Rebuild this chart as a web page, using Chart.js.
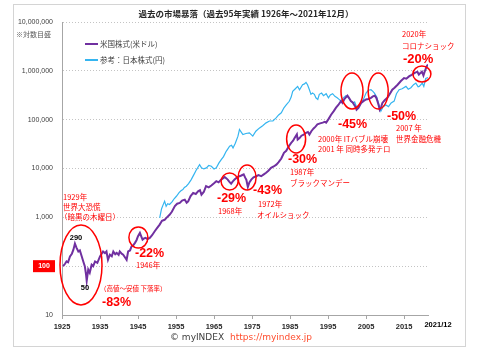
<!DOCTYPE html>
<html>
<head>
<meta charset="utf-8">
<script src="https://cdn.jsdelivr.net/npm/chart.js@4.4.0/dist/chart.umd.min.js"></script>
<style>
body { margin: 0; background: #fff; }
#wrap { width: 477px; height: 350px; }
</style>
</head>
<body>
<div id="wrap"><canvas id="chart" width="477" height="350"></canvas></div>
<script>
// データ
const seriesLabels = ['米国株式(米ドル)', '参考：日本株式(円)'];
const xTickYears = [1925, 1935, 1945, 1955, 1965, 1975, 1985, 1995, 2005, 2015];
const yTickValues = [10, 100, 1000, 10000, 100000, 1000000, 10000000];

const usYears = [1925.3, 1925.8, 1926.2, 1926.6, 1927.1, 1927.6, 1928.0, 1928.4, 1928.8, 1929.3, 1929.7, 1930.2, 1930.6, 1931.0, 1931.3, 1931.5, 1931.9, 1932.3, 1932.8, 1933.2, 1933.7, 1934.3, 1935.0, 1935.8, 1936.3, 1936.7, 1937.1, 1937.6, 1938.1, 1938.5, 1939.0, 1939.4, 1939.9, 1940.2, 1940.7, 1941.1, 1941.6, 1942.0, 1942.4, 1942.9, 1943.3, 1943.8, 1944.2, 1944.6, 1945.0, 1945.5, 1945.9, 1946.2, 1946.6, 1947.0, 1947.5, 1948.1, 1948.7, 1949.4, 1950.0, 1950.7, 1951.3, 1952.0, 1952.6, 1953.3, 1953.9, 1954.7, 1955.3, 1956.0, 1956.6, 1957.3, 1957.8, 1958.2, 1958.8, 1959.5, 1960.2, 1960.8, 1961.3, 1961.7, 1962.3, 1962.9, 1963.6, 1964.3, 1965.0, 1965.6, 1966.2, 1966.9, 1967.4, 1967.8, 1968.2, 1968.6, 1969.0, 1969.5, 1969.9, 1970.4, 1971.0, 1971.7, 1972.2, 1972.8, 1973.2, 1973.5, 1973.9, 1974.3, 1974.8, 1975.4, 1976.1, 1976.7, 1977.4, 1978.0, 1978.7, 1979.3, 1980.0, 1980.7, 1981.4, 1982.0, 1982.7, 1983.4, 1984.0, 1984.6, 1985.3, 1985.8, 1986.2, 1986.8, 1987.0, 1987.5, 1988.0, 1988.6, 1989.2, 1989.7, 1990.1, 1990.6, 1991.2, 1991.7, 1992.2, 1992.9, 1993.6, 1994.1, 1994.5, 1995.2, 1995.8, 1996.5, 1997.1, 1997.7, 1998.4, 1998.8, 1999.3, 2000.1, 2000.5, 2001.0, 2001.5, 2001.9, 2002.2, 2002.5, 2003.0, 2003.7, 2004.3, 2005.0, 2005.6, 2006.3, 2006.8, 2007.3, 2007.7, 2008.0, 2008.3, 2008.6, 2009.0, 2009.3, 2009.9, 2010.6, 2011.2, 2011.9, 2012.5, 2013.3, 2014.1, 2015.0, 2015.6, 2016.3, 2017.0, 2017.7, 2018.5, 2018.9, 2019.3, 2019.7, 2020.1, 2020.4, 2020.7, 2021.0, 2021.3];
const usValues = [100, 112, 125, 120, 158, 180, 218, 290, 240, 200, 210, 158, 125, 100, 70, 50, 85, 73, 107, 100, 125, 117, 158, 200, 185, 200, 135, 172, 160, 200, 175, 187, 170, 200, 180, 172, 150, 135, 200, 210, 255, 270, 300, 340, 410, 480, 400, 350, 370, 380, 360, 380, 430, 520, 600, 710, 850, 890, 1000, 1130, 1300, 1700, 1900, 1970, 2200, 2300, 2000, 2130, 2700, 3160, 3000, 3400, 3600, 2900, 3300, 4340, 4100, 4500, 5000, 5500, 5200, 5930, 6300, 6700, 6300, 5930, 5400, 4900, 5400, 5930, 6500, 6950, 7200, 7600, 6500, 5900, 4200, 5200, 5930, 6600, 6950, 7300, 6950, 7500, 8200, 9000, 10300, 11000, 12000, 13500, 16000, 21000, 23000, 28000, 33500, 37000, 42000, 50000, 39000, 42000, 47000, 49500, 53700, 56000, 49500, 58000, 66000, 72000, 80000, 84000, 87000, 90000, 87000, 105000, 126000, 150000, 176000, 200000, 240000, 220000, 265000, 310000, 280000, 240000, 225000, 200000, 185000, 160000, 175000, 220000, 240000, 260000, 265000, 280000, 300000, 310000, 280000, 240000, 200000, 160000, 185000, 220000, 250000, 280000, 330000, 410000, 450000, 520000, 610000, 710000, 690000, 770000, 830000, 900000, 960000, 840000, 900000, 960000, 800000, 950000, 1100000, 1250000, 1350000];

const jpYears = [1950.7, 1951.2, 1951.6, 1952.0, 1952.4, 1952.8, 1953.3, 1954.0, 1954.5, 1955.1, 1955.8, 1956.3, 1956.8, 1957.2, 1957.7, 1958.3, 1959.0, 1959.7, 1960.4, 1960.9, 1961.2, 1961.7, 1962.3, 1963.0, 1963.6, 1964.3, 1965.0, 1965.6, 1966.3, 1966.9, 1967.5, 1968.2, 1968.6, 1969.1, 1969.6, 1970.0, 1970.6, 1971.3, 1971.7, 1972.2, 1972.6, 1973.4, 1974.3, 1975.2, 1976.0, 1976.9, 1977.8, 1978.7, 1979.6, 1980.5, 1981.4, 1982.0, 1982.7, 1983.4, 1984.0, 1984.8, 1985.3, 1985.7, 1986.4, 1987.0, 1987.5, 1988.3, 1988.8, 1989.2, 1989.6, 1990.1, 1990.5, 1990.9, 1991.4, 1991.8, 1992.3, 1992.7, 1993.3, 1993.8, 1994.5, 1995.1, 1995.6, 1996.2, 1996.8, 1997.4, 1997.9, 1998.4, 1999.0, 1999.7, 2000.3, 2001.0, 2001.6, 2002.0, 2002.4, 2003.0, 2003.7, 2004.3, 2005.0, 2005.6, 2006.3, 2006.8, 2007.2, 2007.8, 2008.5, 2008.9, 2009.5, 2010.2, 2010.9, 2011.6, 2012.4, 2013.0, 2013.7, 2014.5, 2015.5, 2016.1, 2016.8, 2017.5, 2018.1, 2018.7, 2019.0, 2019.8, 2020.2, 2020.7, 2021.3];
const jpValues = [970, 1500, 1800, 2140, 1680, 1900, 1830, 2100, 2400, 2700, 3200, 3500, 3700, 4100, 4340, 4900, 5930, 7500, 9500, 11000, 12000, 10300, 9800, 10300, 11500, 11100, 9800, 10300, 13000, 15200, 17500, 22500, 25000, 28600, 30000, 26400, 33000, 46000, 63000, 55000, 49500, 52000, 53700, 46000, 58000, 67000, 75000, 86000, 94000, 94000, 110000, 125000, 138000, 175000, 200000, 238000, 290000, 380000, 430000, 480000, 410000, 520000, 540000, 580000, 520000, 410000, 330000, 350000, 330000, 280000, 260000, 330000, 350000, 310000, 340000, 280000, 320000, 340000, 300000, 280000, 260000, 240000, 280000, 310000, 290000, 240000, 220000, 230000, 190000, 180000, 220000, 260000, 350000, 400000, 410000, 380000, 350000, 290000, 190000, 150000, 185000, 200000, 185000, 220000, 240000, 340000, 410000, 430000, 480000, 420000, 450000, 520000, 560000, 470000, 480000, 560000, 480000, 700000, 730000];

// 暴落の丸印 (年, 値, 横半径, 縦半径)
const crashMarks = [
    [1930.0, 106, 21, 40],
    [1945.1, 386, 9.5, 10.5],
    [1969.1, 5420, 8.5, 8.5],
    [1973.7, 6550, 9, 12.5],
    [1986.6, 40200, 9.5, 14],
    [2001.3, 386000, 11, 18],
    [2008.2, 386000, 10, 18],
    [2019.7, 861000, 9, 8]
];

const jpFont = '"Noto Sans CJK JP", sans-serif';
const red = '#ff0000';

function toPoints(xs, ys) {
    return xs.map((x, i) => ({ x: x, y: ys[i] }));
}

function txt(ctx, s, x, y, font, color, align) {
    ctx.font = font;
    ctx.fillStyle = color;
    ctx.textAlign = align || 'left';
    ctx.textBaseline = 'middle';
    ctx.fillText(s, x, y);
}

// 注記、タイトル、凡例など
const decor = {
    id: 'decor',
    beforeDraw(chart) {
        const ctx = chart.ctx;
        ctx.save();
        ctx.fillStyle = '#fff';
        ctx.fillRect(0, 0, chart.width, chart.height);
        ctx.strokeStyle = '#d4d4d4';
        ctx.lineWidth = 1;
        ctx.strokeRect(13.5, 4.5, 452, 342);
        ctx.restore();
    },
    afterDraw(chart) {
        const ctx = chart.ctx;
        const xs = chart.scales.x, ys = chart.scales.y;
        ctx.save();

        txt(ctx, '過去の市場暴落（過去95年実績 1926年～2021年12月）', 246, 14, 'bold 8.5px ' + jpFont, '#262626', 'center');
        txt(ctx, '※対数目盛', 16, 34, '7px ' + jpFont, '#595959');

        chart.data.datasets.forEach((ds, i) => {
            const y = 44 + i * 16;
            ctx.strokeStyle = ds.borderColor;
            ctx.lineWidth = 2;
            ctx.beginPath();
            ctx.moveTo(85, y);
            ctx.lineTo(98, y);
            ctx.stroke();
            txt(ctx, ds.label, 100, y, '7.5px ' + jpFont, '#404040');
        });

        const y100 = ys.getPixelForValue(100);
        ctx.fillStyle = red;
        ctx.fillRect(33, y100 - 6, 22, 12);
        txt(ctx, '100', 44, y100, 'bold 7px "Liberation Sans"', '#fff', 'center');

        txt(ctx, '2021/12', 438, 325, 'bold 7.5px "Liberation Sans"', '#000', 'center');

        ctx.strokeStyle = red;
        ctx.lineWidth = 1.5;
        crashMarks.forEach(m => {
            ctx.beginPath();
            ctx.ellipse(xs.getPixelForValue(m[0]), ys.getPixelForValue(m[1]), m[2], m[3], 0, 0, Math.PI * 2);
            ctx.stroke();
        });

        const small = '7.5px ' + jpFont;
        const big = 'bold 12.5px "Liberation Sans"';
        txt(ctx, '1929年', 63, 197, small, red);
        txt(ctx, '世界大恐慌', 63, 207, small, red);
        txt(ctx, '（暗黒の木曜日）', 60, 217, small, red);
        txt(ctx, '290', 76, 238, 'bold 7.5px "Liberation Sans"', '#000', 'center');
        txt(ctx, '50', 85, 288, 'bold 7.5px "Liberation Sans"', '#000', 'center');
        txt(ctx, '（高値～安値 下落率）', 100, 289, '6.5px ' + jpFont, red);
        txt(ctx, '-83%', 102, 303, big, red);

        txt(ctx, '-22%', 135, 254, big, red);
        txt(ctx, '1946年', 136, 265, small, red);

        txt(ctx, '-29%', 217, 199, big, red);
        txt(ctx, '1968年', 218, 211, small, red);
        txt(ctx, '-43%', 253, 191, big, red);
        txt(ctx, '1972年', 258, 204, small, red);
        txt(ctx, 'オイルショック', 257, 215, small, red);

        txt(ctx, '-30%', 288, 160, big, red);
        txt(ctx, '1987年', 290, 172, small, red);
        txt(ctx, 'ブラックマンデー', 290, 183, small, red);

        txt(ctx, '-45%', 338, 125, big, red);
        txt(ctx, '2000年 ITバブル崩壊', 318, 139, small, red);
        txt(ctx, '2001 年 同時多発テロ', 318, 149, small, red);

        txt(ctx, '-50%', 387, 117, big, red);
        txt(ctx, '2007 年', 396, 128, small, red);
        txt(ctx, '世界金融危機', 396, 139, small, red);

        txt(ctx, '2020年', 402, 34, small, red);
        txt(ctx, 'コロナショック', 402, 46, small, red);
        txt(ctx, '-20%', 403, 59, 'bold 13px "Liberation Sans"', red);

        txt(ctx, '© myINDEX', 170, 338, '9px "DejaVu Sans"', '#404040');
        txt(ctx, 'https://myindex.jp', 230, 338, '9px "DejaVu Sans"', '#ff4d2e');

        ctx.restore();
    }
};

new Chart(document.getElementById('chart'), {
    type: 'line',
    data: {
        datasets: [
            {
                label: seriesLabels[0],
                data: toPoints(usYears, usValues),
                borderColor: '#7030a0',
                borderWidth: 2,
                pointRadius: 0,
                tension: 0
            },
            {
                label: seriesLabels[1],
                data: toPoints(jpYears, jpValues),
                borderColor: '#35b5f0',
                borderWidth: 1.2,
                pointRadius: 0,
                tension: 0
            }
        ]
    },
    options: {
        responsive: false,
        animation: false,
        layout: { padding: { top: 22, right: 49, left: 0, bottom: 0 } },
        plugins: { legend: { display: false }, tooltip: { enabled: false } },
        scales: {
            x: {
                type: 'linear',
                min: 1925,
                max: 2021.3,
                afterBuildTicks: s => { s.ticks = xTickYears.map(v => ({ value: v })); },
                afterFit: s => { s.height = 35; },
                ticks: {
                    callback: v => String(v),
                    font: { size: 7.5, weight: 'bold', family: 'Liberation Sans' },
                    color: '#262626',
                    padding: 3,
                    maxRotation: 0
                },
                grid: { drawOnChartArea: false, drawTicks: true, tickLength: 4, color: '#a6a6a6' },
                border: { color: '#a6a6a6', width: 1 }
            },
            y: {
                type: 'logarithmic',
                min: 10,
                max: 10000000,
                afterBuildTicks: s => { s.ticks = yTickValues.map(v => ({ value: v })); },
                afterFit: s => { s.width = 62; },
                ticks: {
                    callback: v => v === 100 ? '' : Number(v).toLocaleString('en-US'),
                    font: { size: 7, family: 'Liberation Sans' },
                    color: '#404040',
                    padding: 9
                },
                grid: { color: '#c4c4c4', drawTicks: false, lineWidth: 1 },
                border: { color: '#a6a6a6', width: 1, dash: [1, 2] }
            }
        }
    },
    plugins: [decor]
});
</script>
</body>
</html>
